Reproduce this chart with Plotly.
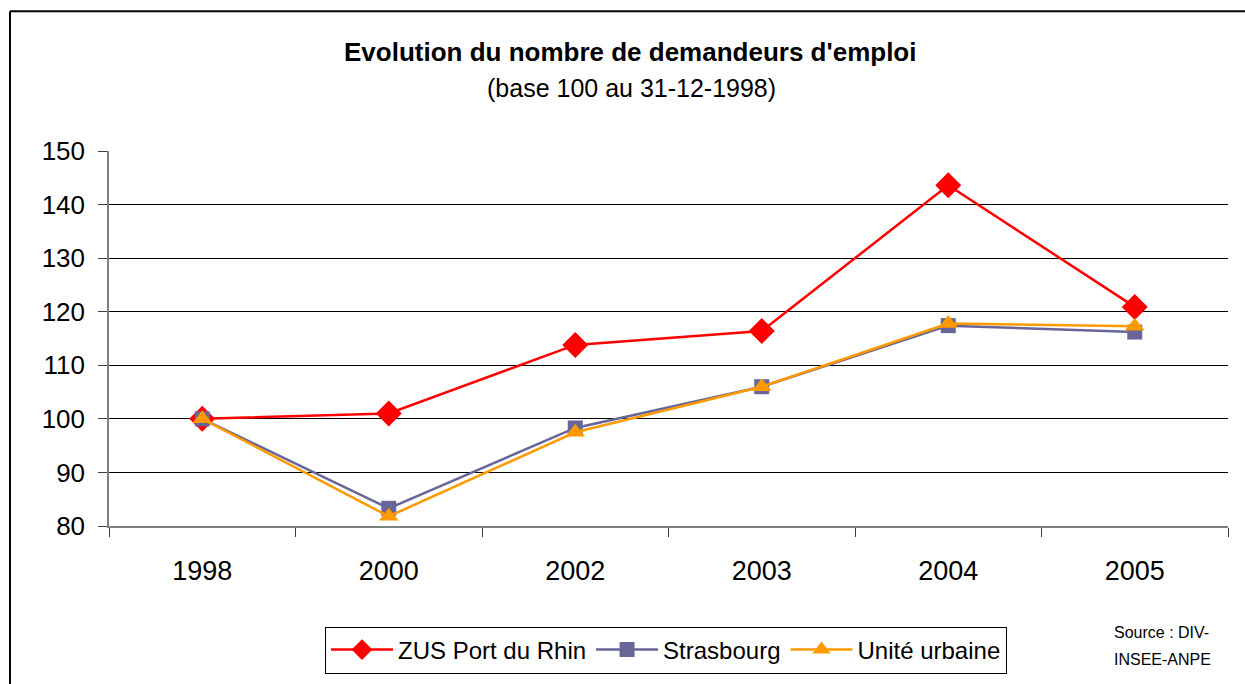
import plotly.graph_objects as go

# Job-seeker index, base 100 at 31-12-1998
years = ["1998", "2000", "2002", "2003", "2004", "2005"]
zus_port_du_rhin = [100.0, 101.0, 113.8, 116.4, 143.6, 120.9]
strasbourg = [100.0, 83.3, 98.3, 106.0, 117.4, 116.2]
unite_urbaine = [100.0, 81.8, 97.5, 106.0, 117.8, 117.3]
y_ticks = [80, 90, 100, 110, 120, 130, 140, 150]

FONT = "Liberation Sans, Arial, sans-serif"

fig = go.Figure()
fig.add_trace(go.Scatter(
    x=years, y=zus_port_du_rhin, name="ZUS Port du Rhin", mode="lines+markers",
    line=dict(color="#FF0000", width=2.5),
    marker=dict(symbol="diamond", size=20, color="#FF0000"),
))
fig.add_trace(go.Scatter(
    x=years, y=strasbourg, name="Strasbourg", mode="lines+markers",
    line=dict(color="#666699", width=2.5),
    marker=dict(symbol="square", size=15, color="#666699"),
))
fig.add_trace(go.Scatter(
    x=years, y=unite_urbaine, name="Unité urbaine", mode="lines+markers",
    line=dict(color="#FF9900", width=2.5),
    marker=dict(symbol="triangle-up", size=17, color="#FF9900"),
))

# plot area in pixels: x 109..1228, y 151..527
L, R, T, B = 109, 1228, 151, 527
W, H = R - L, B - T


def px(x):
    return (x - L) / W


def py(y):
    return 1 + (T - y) / H


fig.update_layout(
    width=1245, height=684,
    margin=dict(l=L, r=1245 - R, t=T, b=684 - B),
    paper_bgcolor="white", plot_bgcolor="white",
    font=dict(family=FONT, color="black"),
    showlegend=True,
    legend=dict(
        orientation="h", x=px(666), y=py(650), xanchor="center", yanchor="middle",
        bordercolor="black", borderwidth=1, bgcolor="white",
        font=dict(size=24, family=FONT), itemwidth=62, tracegroupgap=0,
    ),
    xaxis=dict(
        type="category", range=[-0.5, 5.5], showgrid=False, zeroline=False,
        showline=True, linecolor="#808080", linewidth=1.5,
        ticks="outside", tickson="boundaries", ticklen=9, tickcolor="#404040",
        tickfont=dict(size=27, family=FONT), ticklabelstandoff=20,
    ),
    yaxis=dict(
        range=[80, 150], tickvals=y_ticks, showgrid=True, gridcolor="black",
        gridwidth=1, zeroline=False, showline=True, linecolor="#808080",
        linewidth=1.5, ticks="outside", ticklen=9, tickcolor="#404040",
        tickfont=dict(size=26, family=FONT), ticklabelstandoff=8,
    ),
    annotations=[
        dict(text="<b>Evolution du nombre de demandeurs d'emploi</b>",
             x=px(630), y=py(52), xref="paper", yref="paper",
             xanchor="center", yanchor="middle", showarrow=False,
             font=dict(size=26, family=FONT)),
        dict(text="(base 100 au 31-12-1998)",
             x=px(631), y=py(88), xref="paper", yref="paper",
             xanchor="center", yanchor="middle", showarrow=False,
             font=dict(size=25, family=FONT)),
        dict(text="Source : DIV-",
             x=px(1112), y=py(634), xref="paper", yref="paper",
             xanchor="left", yanchor="middle", align="left", showarrow=False,
             font=dict(size=16, family=FONT)),
        dict(text="INSEE-ANPE",
             x=px(1112), y=py(661), xref="paper", yref="paper",
             xanchor="left", yanchor="middle", align="left", showarrow=False,
             font=dict(size=16, family=FONT)),
    ],
    shapes=[
        # chart frame (left and top edges)
        dict(type="line", xref="paper", yref="paper",
             x0=px(10), x1=px(10), y0=py(11), y1=py(700),
             line=dict(color="black", width=2)),
        dict(type="line", xref="paper", yref="paper",
             x0=px(10), x1=px(1260), y0=py(11), y1=py(11),
             line=dict(color="black", width=2)),
    ],
)

fig.write_html("out.html")
